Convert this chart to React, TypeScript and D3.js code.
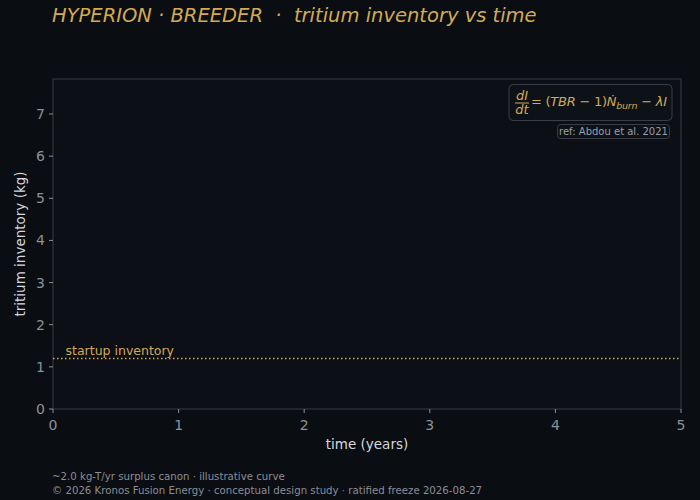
import React from "react";
import * as d3 from "d3";

const xTicks = [0, 1, 2, 3, 4, 5];
const yTicks = [0, 1, 2, 3, 4, 5, 6, 7];
const xDomain = [0, 5];
const yDomain = [0, 7.83];
const startupInventory = [1.2];
const startupLabel = "startup inventory";
const titleText = "HYPERION · BREEDER  ·  tritium inventory vs time";
const footerLines = [
  "~2.0 kg-T/yr surplus canon · illustrative curve",
  "© 2026 Kronos Fusion Energy · conceptual design study · ratified freeze 2026-08-27",
];
const refText = "ref: Abdou et al. 2021";

const W = 700;
const H = 500;
const M = { left: 53, right: 681, top: 79, bottom: 409 };
const FONT = "'DejaVu Sans', sans-serif";
const GOLD = "#d4aa52";
const GRID = "#3a3d44";
const TICK = "#8d9199";

export default function App() {
  const x = d3.scaleLinear().domain(xDomain).range([M.left, M.right]);
  const y = d3.scaleLinear().domain(yDomain).range([M.bottom, M.top]);
  return (
    <svg
      width={W}
      height={H}
      style={{ position: "absolute", left: 0, top: 0, display: "block" }}
      fontFamily={FONT}
    >
      <rect x={0} y={0} width={W} height={H} fill="#0a0d12" />
      <rect
        x={M.left}
        y={M.top}
        width={M.right - M.left}
        height={M.bottom - M.top}
        fill="#0c0f16"
        stroke={GRID}
        strokeWidth={1}
      />
      <text x={52} y={22} fill={GOLD} fontSize={19.5} fontStyle="italic" style={{ whiteSpace: "pre" }}>
        {titleText}
      </text>
      {startupInventory.map((v, i) => (
        <g key={i}>
          <line
            x1={M.left}
            x2={M.right}
            y1={y(v)}
            y2={y(v)}
            stroke={GOLD}
            strokeWidth={1.5}
            strokeDasharray="1.5,2.5"
          />
          <text x={x(0.1)} y={y(v) - 3} fill={GOLD} fontSize={12.5}>
            {startupLabel}
          </text>
        </g>
      ))}
      {xTicks.map((t) => (
        <g key={"x" + t}>
          <line x1={x(t)} x2={x(t)} y1={M.bottom} y2={M.bottom + 4} stroke={TICK} />
          <text x={x(t)} y={M.bottom + 21} fill={TICK} fontSize={14} textAnchor="middle">
            {t}
          </text>
        </g>
      ))}
      {yTicks.map((t) => (
        <g key={"y" + t}>
          <line x1={M.left - 4} x2={M.left} y1={y(t)} y2={y(t)} stroke={TICK} />
          <text x={M.left - 8} y={y(t) + 5} fill={TICK} fontSize={14} textAnchor="end">
            {t}
          </text>
        </g>
      ))}
      <text x={(M.left + M.right) / 2} y={449} fill="#d5d8de" fontSize={13.5} textAnchor="middle">
        time (years)
      </text>
      <text
        transform={`translate(25,${(M.top + M.bottom) / 2}) rotate(-90)`}
        fill="#d5d8de"
        fontSize={13.5}
        textAnchor="middle"
      >
        tritium inventory (kg)
      </text>
      {/* equation box */}
      <rect x={509} y={84.5} width={163} height={36} rx={4} fill="#0d1118" stroke={GRID} />
      <g fill={GOLD} fontStyle="italic" fontSize={13}>
        <text x={522} y={100} textAnchor="middle">dI</text>
        <line x1={515} x2={529} y1={103} y2={103} stroke={GOLD} strokeWidth={1} />
        <text x={522} y={114} textAnchor="middle">dt</text>
        <text x={531} y={106} textLength={136}>
          <tspan fontStyle="normal">= (</tspan>
          <tspan>TBR</tspan>
          <tspan fontStyle="normal"> − 1)</tspan>
          <tspan>Ṅ</tspan>
          <tspan fontSize={9.5} dy={3}>burn</tspan>
          <tspan fontStyle="normal" dy={-3}> − </tspan>
          <tspan>λI</tspan>
        </text>
      </g>
      <rect x={557.5} y={124.5} width={112} height={14} rx={3} fill="#0d1118" stroke={GRID} />
      <text x={613.5} y={135} fill="#9a9ea6" fontSize={10} textAnchor="middle">
        {refText}
      </text>
      {footerLines.map((l, i) => (
        <text key={i} x={52} y={480 + i * 14} fill="#8a8e96" fontSize={10.2}>
          {l}
        </text>
      ))}
    </svg>
  );
}
